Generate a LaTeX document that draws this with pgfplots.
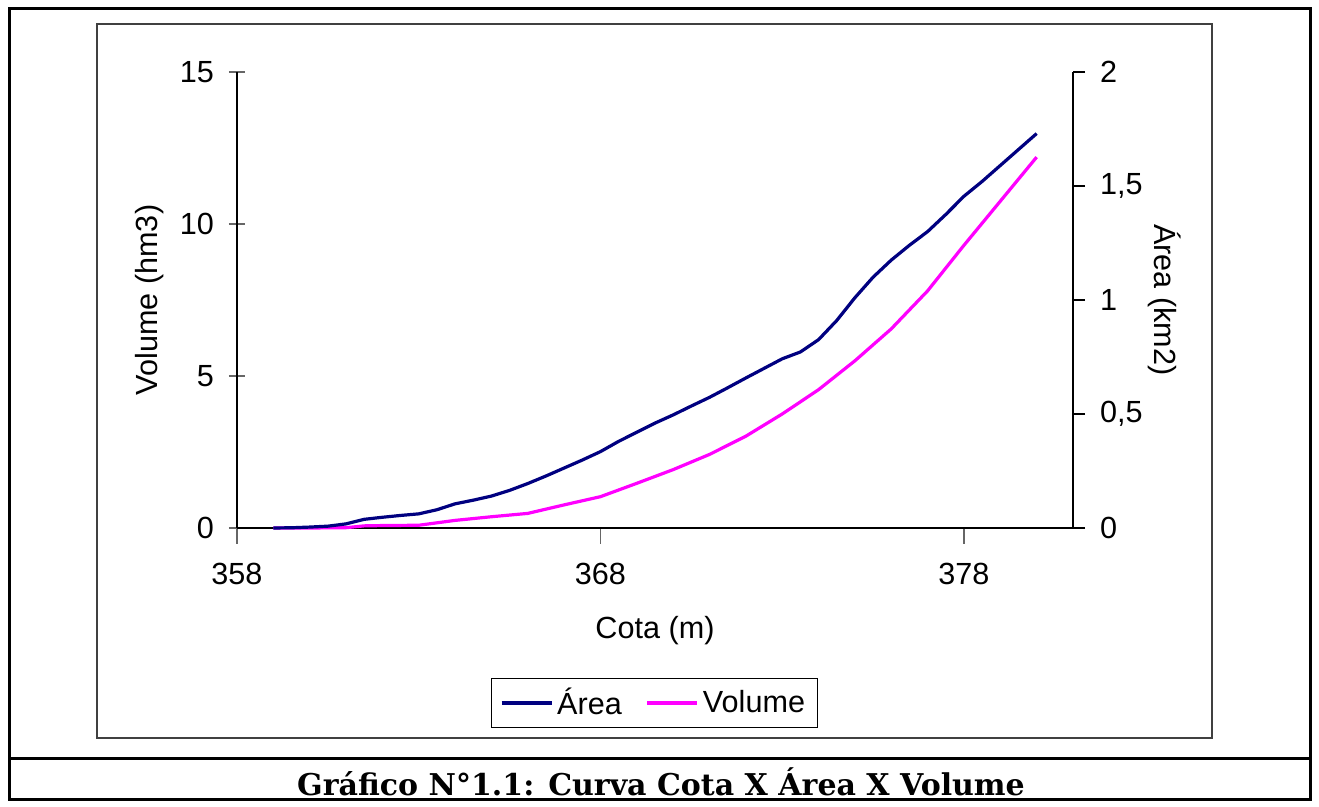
\documentclass[border=0pt]{standalone}
\usepackage{fontspec}
\setmainfont{Liberation Sans}
\newfontfamily\capfont{DejaVu Serif}
\usepackage{pgfplots}
\pgfplotsset{compat=1.18}
\definecolor{navyc}{RGB}{0,0,128}
\definecolor{magc}{RGB}{255,0,255}

\pgfplotstableread{
cota area
359 0
359.5 0.001
360 0.004
360.5 0.008
361 0.018
361.5 0.038
362 0.047
362.5 0.055
363 0.062
363.5 0.080
364 0.106
364.5 0.122
365 0.140
365.5 0.165
366 0.195
366.5 0.228
367 0.263
367.5 0.298
368 0.335
368.5 0.380
369 0.420
369.5 0.460
370 0.496
370.5 0.535
371 0.573
371.5 0.615
372 0.658
372.5 0.700
373 0.742
373.5 0.772
374 0.826
374.5 0.910
375 1.010
375.5 1.100
376 1.175
376.5 1.240
377 1.300
377.5 1.375
378 1.455
378.5 1.520
379 1.590
379.5 1.660
380 1.730
}\areatab

\pgfplotstableread{
cota vol
359 0
360 0
361 0.01
361.5 0.07
362 0.08
363 0.09
364 0.25
365 0.37
366 0.48
367 0.76
368 1.03
369 1.47
370 1.92
371 2.42
372 3.02
373 3.75
374 4.55
375 5.50
376 6.55
377 7.80
378 9.30
379 10.75
380 12.20
}\voltab

\begin{document}
\begin{tikzpicture}[x=0.5pt,y=0.5pt]
\useasboundingbox (0,0) rectangle (1319,807);
\fill[white] (0,0) rectangle (1319,807);
\draw[line width=1.5pt] (9,798) rectangle (1310,7);
\draw[line width=1.5pt] (9,48) -- (1310,48);
\draw[line width=0.7pt, black!75] (97,783) rectangle (1212,69);
\node[font=\capfont\bfseries\fontsize{15}{18}\selectfont] at (661,25) {Gráfico N°1.1: Curva Cota X Área X Volume};

\begin{axis}[
  at={(118.5pt,139.5pt)}, anchor=south west,
  scale only axis, width=418pt, height=228pt,
  xmin=358, xmax=381, ymin=0, ymax=15,
  xtick={358,368,378}, ytick={0,5,10,15},
  axis x line*=bottom, axis y line*=left,
  axis line style={-, line width=0.9pt},
  x tick style={line width=0.9pt, black!60},
  y tick style={line width=0.9pt, black!60},
  xtick align=outside, ytick align=center,
  major tick length=8pt,
  tick label style={font=\fontsize{15.3}{18}\selectfont},
  /pgf/number format/assume math mode=true,
  xticklabel style={yshift=-6pt},
  yticklabel style={xshift=-4pt},
  label style={font=\fontsize{15.3}{18}\selectfont},
  xlabel={Cota (m)}, ylabel={Volume (hm3)},
  xlabel style={yshift=-9pt},
  ylabel style={yshift=1pt},
  clip=false,
]
\addplot[magc, line width=1.6pt] table[x=cota,y=vol] {\voltab};
\end{axis}

\begin{axis}[
  at={(118.5pt,139.5pt)}, anchor=south west,
  scale only axis, width=418pt, height=228pt,
  xmin=358, xmax=381, ymin=0, ymax=2,
  ytick={0,0.5,1,1.5,2},
  hide x axis,
  axis y line*=right,
  axis line style={-, line width=0.9pt},
  y tick style={line width=0.9pt, black},
  ytick align=outside,
  major tick length=6pt,
  tick label style={font=\fontsize{15.3}{18}\selectfont},
  /pgf/number format/assume math mode=true,
  /pgf/number format/use comma,
  yticklabel style={xshift=4pt},
  label style={font=\fontsize{15.3}{18}\selectfont},
  ylabel={Área (km2)},
  ylabel style={rotate=180, yshift=-4pt},
  legend columns=2,
  legend style={at={(rel axis cs:0.4994,-0.3838)}, anchor=center,
    draw=black, line width=0.5pt, font=\fontsize{15.3}{18}\selectfont,
    inner xsep=4pt, inner ysep=3pt,
    /tikz/every even column/.append style={column sep=10pt}},
  legend image code/.code={\draw[#1] (0pt,0pt) -- (25pt,0pt);},
  clip=false,
]
\addplot[navyc, line width=1.6pt] table[x=cota,y=area] {\areatab};
\addlegendentry{Área}
\addlegendimage{magc, line width=1.6pt}
\addlegendentry{Volume}
\end{axis}
\end{tikzpicture}
\end{document}
